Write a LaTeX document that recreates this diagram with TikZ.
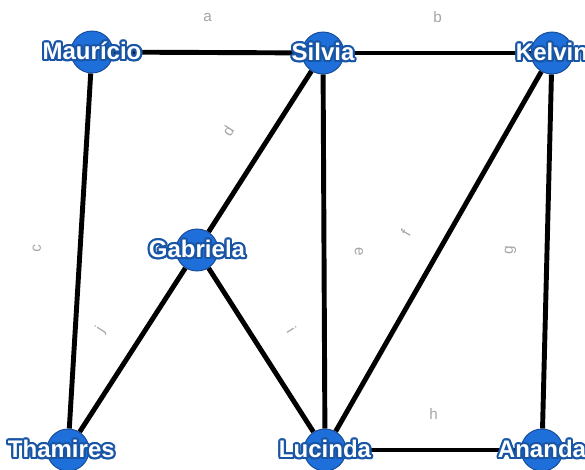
\documentclass[tikz,border=0pt]{standalone}
\usepackage{fontspec}
\setmainfont{Liberation Sans}
\usepackage[copies]{contour}
\usetikzlibrary{backgrounds}

\definecolor{nodeblue}{RGB}{30,111,217}
\definecolor{rimblue}{RGB}{22,74,150}
\definecolor{txtrim}{RGB}{25,85,165}
\definecolor{lblgray}{RGB}{165,165,165}
\contourlength{1.8pt}
\newcommand{\pname}[1]{\textcolor{white}{\contour{txtrim}{#1}}}

\tikzset{
  person/.style={circle, fill=nodeblue, draw=rimblue, line width=0.8pt, minimum size=1.26cm, inner sep=0pt},
  pname/.style={font=\fontsize{20.5}{22}\selectfont\bfseries, inner sep=0pt},
  link/.style={draw, line width=4.2pt, black},
  elabel/.style={sloped, midway, inner sep=0pt, text=lblgray, font=\fontsize{13}{15}\selectfont},
}

\begin{document}
\begin{tikzpicture}[x=0.03cm, y=0.03cm]
\useasboundingbox (0,0) rectangle (585,469);
      \node [person, label={[pname]center:\pname{Maurício}}] at (92,417) (mau) {};
       \node [person, label={[pname]center:\pname{Silvia}}] at (323,416) (sil) {};
        \node [person, label={[pname]center:\pname{Kelvin}}] at (552,416) (kel) {};
         \node [person, label={[pname]center:\pname{Gabriela}}] at (197,219) (gab) {};
          \node [person, label={[pname, xshift=-0.2cm]center:\pname{Thamires}}] at (68,19) (tha) {};
           \node [person, label={[pname]center:\pname{Lucinda}}] at (325,19) (luc) {};
            \node [person, label={[pname]center:\pname{Ananda}}] at (542,19) (ana) {};
%
%
\begin{scope}[on background layer]
\path[link] (mau) edge node [elabel, above=0.85cm] {a} (sil);
\path[link] (sil) edge node [elabel, above=0.85cm] {b} (kel);
\path[link] (mau) edge node [elabel, above=1.1cm] {c} (tha);
\path[link] (sil) edge node [elabel, above=0.9cm] {d} (gab);
\path[link] (sil) edge node [elabel, above=0.85cm] {e} (luc);
\path[link] (kel) edge node [elabel, above=0.9cm] {f} (luc);
\path[link] (kel) edge node [elabel, above=0.85cm] {g} (ana);
\path[link] (luc) edge node [elabel, above=0.85cm] {h} (ana);
\path[link] (gab) edge node [elabel, above=0.85cm] {i} (luc);
\path[link] (gab) edge node [elabel, above=0.85cm] {j} (tha);
\end{scope}

\end{tikzpicture}
\end{document}
